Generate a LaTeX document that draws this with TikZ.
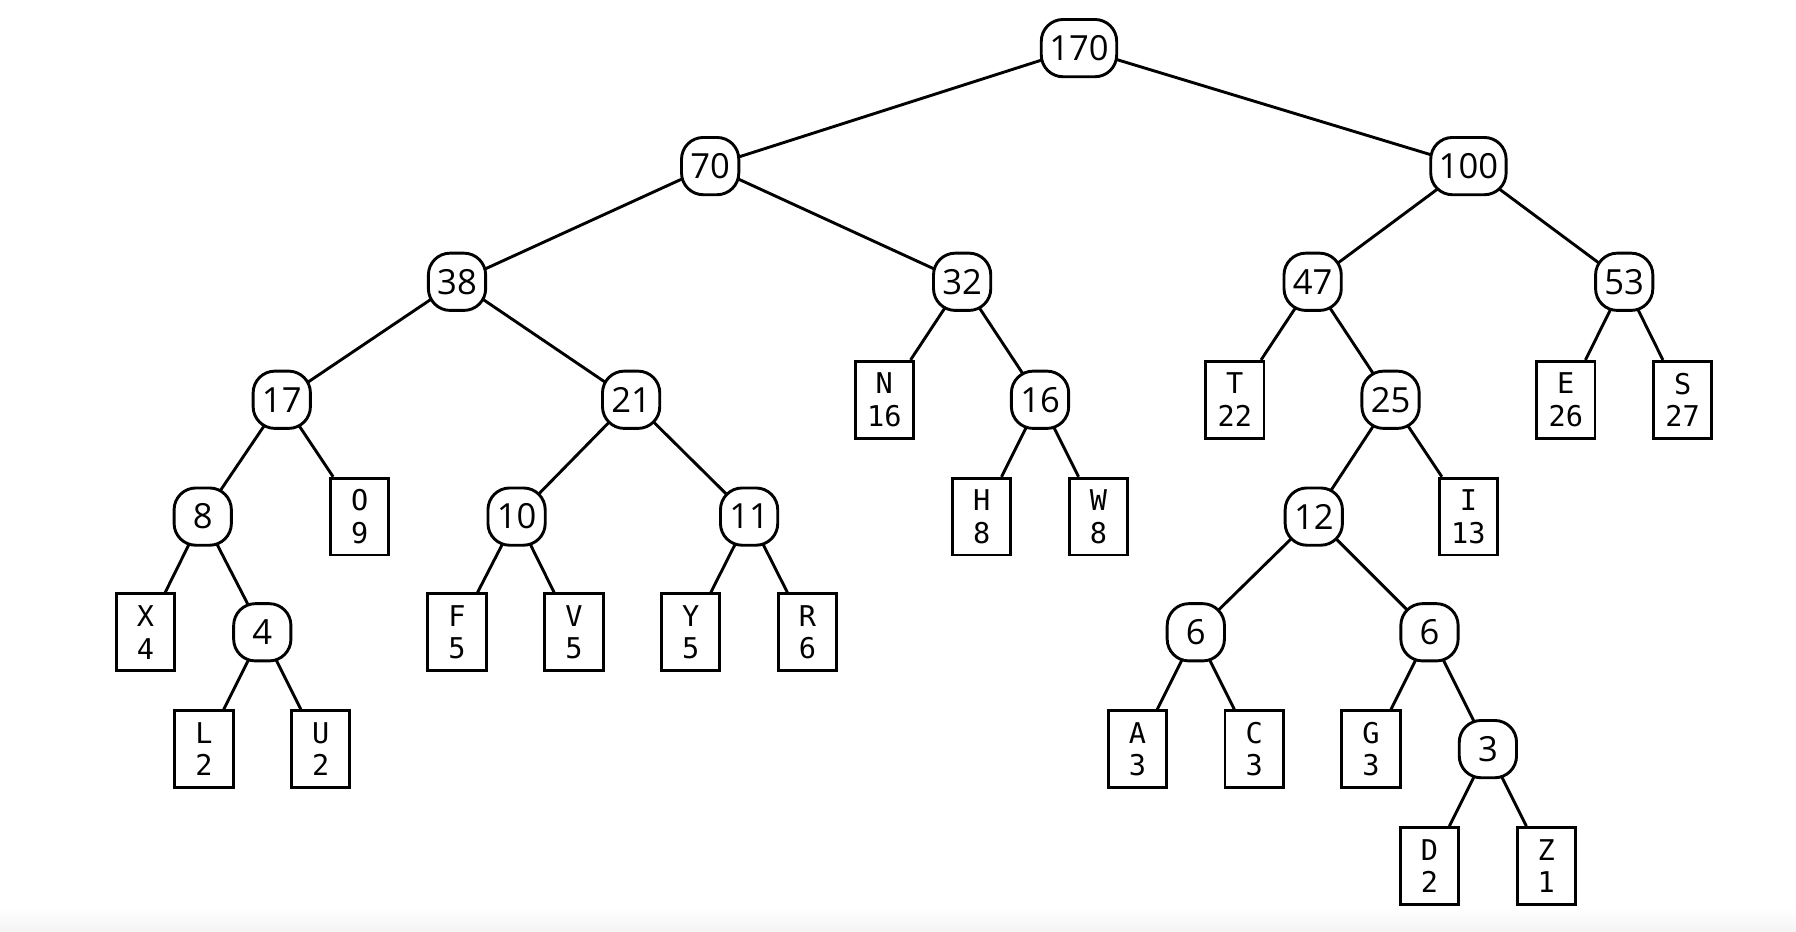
\documentclass[tikz,border=0pt]{standalone}
\usepackage{fontspec}
\setmainfont{Open Sans}
\newfontfamily\leaffont{DejaVu Sans Mono}
\usepackage{tikz}
\usetikzlibrary{positioning, backgrounds}

\begin{document}
\begin{tikzpicture}[
  line width=0.72pt,
  wnode/.style={draw, fill=white, rounded corners=0.19cm, minimum width=0.5cm, minimum height=0.5cm, inner xsep=0.07cm, font=\fontsize{8.6}{9}\selectfont},
  leaf/.style={draw, fill=white, minimum width=0.51cm, minimum height=0.67cm, inner sep=0pt, align=center, font=\leaffont\fontsize{7.1}{8.1}\selectfont},
  edge/.style={draw, line width=0.72pt}
]
  \useasboundingbox (0, 0) rectangle (15.68, -8.13);
  \shade[top color=white, bottom color=black!4] (0, -7.92) rectangle (15.68, -8.13);

  % Internal weights
  \node[wnode] (n170) at (9.42, -0.42) {170};
  \node[wnode] (n70) at (6.20, -1.45) {70};
  \node[wnode] (n100) at (12.82, -1.45) {100};
  \node[wnode] (n38) at (3.99, -2.46) {38};
  \node[wnode] (n32) at (8.40, -2.46) {32};
  \node[wnode] (n47) at (11.46, -2.46) {47};
  \node[wnode] (n53) at (14.18, -2.46) {53};
  \node[wnode] (n17) at (2.46, -3.49) {17};
  \node[wnode] (n21) at (5.51, -3.49) {21};
  \node[wnode] (n16) at (9.08, -3.49) {16};
  \node[wnode] (n25) at (12.14, -3.49) {25};
  \node[wnode] (n8) at (1.77, -4.51) {8};
  \node[wnode] (n10) at (4.51, -4.51) {10};
  \node[wnode] (n11) at (6.54, -4.51) {11};
  \node[wnode] (n12) at (11.47, -4.51) {12};
  \node[wnode] (n4) at (2.29, -5.52) {4};
  \node[wnode] (n6a) at (10.44, -5.52) {6};
  \node[wnode] (n6b) at (12.48, -5.52) {6};
  \node[wnode] (n3) at (12.99, -6.54) {3};

  % Leaves (symbol / count)
  \node[leaf] (lfN) at (7.72, -3.49) {N\\16};
  \node[leaf] (lfT) at (10.78, -3.49) {T\\22};
  \node[leaf] (lfE) at (13.67, -3.49) {E\\26};
  \node[leaf] (lfS) at (14.69, -3.49) {S\\27};
  \node[leaf] (lfO) at (3.14, -4.51) {O\\9};
  \node[leaf] (lfH) at (8.57, -4.51) {H\\8};
  \node[leaf] (lfW) at (9.59, -4.51) {W\\8};
  \node[leaf] (lfI) at (12.82, -4.51) {I\\13};
  \node[leaf] (lfX) at (1.27, -5.52) {X\\4};
  \node[leaf] (lfF) at (3.99, -5.52) {F\\5};
  \node[leaf] (lfV) at (5.01, -5.52) {V\\5};
  \node[leaf] (lfY) at (6.03, -5.52) {Y\\5};
  \node[leaf] (lfR) at (7.05, -5.52) {R\\6};
  \node[leaf] (lfL) at (1.78, -6.54) {L\\2};
  \node[leaf] (lfU) at (2.80, -6.54) {U\\2};
  \node[leaf] (lfA) at (9.93, -6.54) {A\\3};
  \node[leaf] (lfC) at (10.95, -6.54) {C\\3};
  \node[leaf] (lfG) at (11.97, -6.54) {G\\3};
  \node[leaf] (lfD) at (12.48, -7.56) {D\\2};
  \node[leaf] (lfZ) at (13.50, -7.56) {Z\\1};

  % Edges, centre to centre behind the nodes
  \begin{scope}[on background layer, every path/.style={edge}]
    \draw (n170.center) -- (n70.center);
    \draw (n170.center) -- (n100.center);
    \draw (n70.center) -- (n38.center);
    \draw (n70.center) -- (n32.center);
    \draw (n100.center) -- (n47.center);
    \draw (n100.center) -- (n53.center);
    \draw (n38.center) -- (n17.center);
    \draw (n38.center) -- (n21.center);
    \draw (n32.center) -- (lfN);
    \draw (n32.center) -- (n16.center);
    \draw (n47.center) -- (lfT);
    \draw (n47.center) -- (n25.center);
    \draw (n53.center) -- (lfE);
    \draw (n53.center) -- (lfS);
    \draw (n17.center) -- (n8.center);
    \draw (n17.center) -- (lfO);
    \draw (n21.center) -- (n10.center);
    \draw (n21.center) -- (n11.center);
    \draw (n16.center) -- (lfH);
    \draw (n16.center) -- (lfW);
    \draw (n25.center) -- (n12.center);
    \draw (n25.center) -- (lfI);
    \draw (n8.center) -- (lfX);
    \draw (n8.center) -- (n4.center);
    \draw (n10.center) -- (lfF);
    \draw (n10.center) -- (lfV);
    \draw (n11.center) -- (lfY);
    \draw (n11.center) -- (lfR);
    \draw (n12.center) -- (n6a.center);
    \draw (n12.center) -- (n6b.center);
    \draw (n4.center) -- (lfL);
    \draw (n4.center) -- (lfU);
    \draw (n6a.center) -- (lfA);
    \draw (n6a.center) -- (lfC);
    \draw (n6b.center) -- (lfG);
    \draw (n6b.center) -- (n3.center);
    \draw (n3.center) -- (lfD);
    \draw (n3.center) -- (lfZ);
  \end{scope}
\end{tikzpicture}
\end{document}
